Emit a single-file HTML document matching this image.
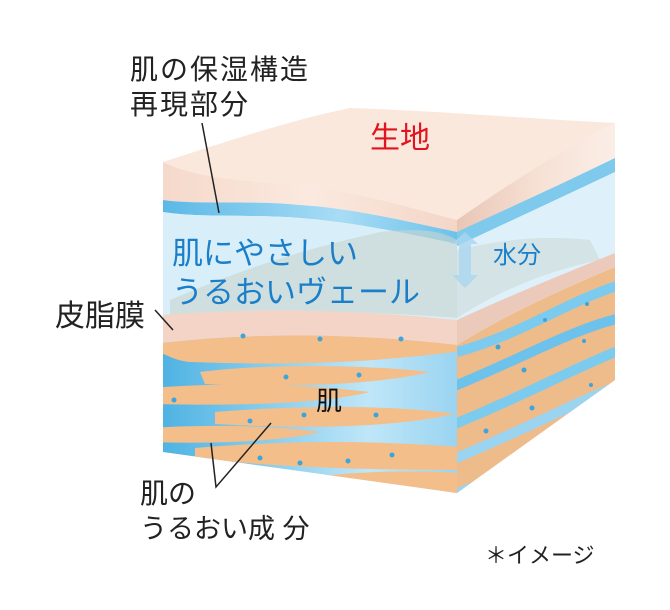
<!DOCTYPE html>
<html><head><meta charset="utf-8"><style>
html,body{margin:0;padding:0;background:#fff;}
svg{display:block}
text{font-family:"Liberation Sans","Noto Sans CJK JP",sans-serif;}
</style></head><body>
<svg width="670" height="610" viewBox="0 0 670 610" xmlns="http://www.w3.org/2000/svg">
<defs>
<linearGradient id="fab" x1="0" x2="1"><stop offset="0" stop-color="#f5d9cb"/><stop offset="0.5" stop-color="#fbe9df"/><stop offset="1" stop-color="#f3d6c8"/></linearGradient>
<linearGradient id="fabR" x1="0" x2="1"><stop offset="0" stop-color="#e8c6b6"/><stop offset="0.5" stop-color="#f6e0d4"/><stop offset="1" stop-color="#fbeee7"/></linearGradient>
<linearGradient id="blu" x1="0" x2="1"><stop offset="0" stop-color="#5bb8e6"/><stop offset="0.6" stop-color="#a8dcf5"/><stop offset="1" stop-color="#6cc2ea"/></linearGradient>
<linearGradient id="skinb" x1="0" x2="1"><stop offset="0" stop-color="#4fb3e3"/><stop offset="0.7" stop-color="#bfe6f8"/><stop offset="1" stop-color="#9ad4f1"/></linearGradient>
<linearGradient id="skinbR" x1="0" x2="1"><stop offset="0" stop-color="#a8daf3"/><stop offset="1" stop-color="#4fb3e3"/></linearGradient>
<clipPath id="cf"><path d="M163,343 C280,330 380,336 457,345 L457,493 L163,452 Z"/></clipPath>
<clipPath id="cr"><path d="M457,345 C500,318 560,290 615,267 L615,380 L457,493 Z"/></clipPath>
</defs>
<path d="M163,162 C230,140 300,118 350,108 C420,110 520,118 615,123 C560,150 500,190 457,220 C400,205 350,190 300,185 C250,180 200,180 163,162 Z" fill="#fbe8dc"/>
<path d="M163,162 C200,180 250,180 300,185 C350,190 400,205 457,220 L457,235 C400,220 350,208 300,205 C250,200 200,205 163,200 Z" fill="url(#fab)"/>
<path d="M163,200 C200,205 250,200 300,205 C350,208 400,220 457,232 L457,244 C400,232 350,222 300,218 C250,214 200,218 163,212 Z" fill="url(#blu)"/>
<path d="M163,212 C200,218 250,214 300,218 C350,222 400,232 457,244 L457,322 C400,318 300,310 163,318 Z" fill="#d8eef9"/>
<path d="M170,300 C240,270 300,250 380,232 C420,228 440,230 457,240 L457,318 C380,312 280,308 170,318 Z" fill="#c9d5cf" opacity="0.6"/>
<path d="M457,220 C500,190 560,150 615,123 L615,160 C560,185 500,215 457,235 Z" fill="url(#fabR)"/>
<path d="M457,232 C500,212 560,185 615,158 L615,172 C560,198 500,226 457,246 Z" fill="#7ec9ec"/>
<path d="M457,246 C500,226 560,198 615,172 L615,253 C560,275 500,300 457,322 Z" fill="#def0fa"/>
<path d="M457,250 C500,240 540,235 590,240 L600,260 C550,270 500,290 457,318 Z" fill="#c9d5cf" opacity="0.5"/>
<path d="M465,232 L478,244 L471,244 L471,275 L478,275 L465,288 L452,275 L459,275 L459,244 L452,244 Z" fill="#a9d6ef" opacity="0.8"/>
<path d="M163,315 C280,306 380,312 457,320 L457,345 C380,336 280,330 163,343 Z" fill="#f4d4c6"/>
<path d="M457,320 C500,300 560,275 615,253 L615,267 C560,290 500,318 457,345 Z" fill="#eccabb"/>
<path d="M163,343 C280,330 380,336 457,345 L457,493 L163,452 Z" fill="url(#skinb)"/>
<g fill="#f4be8a" clip-path="url(#cf)">
<path d="M150,335 L470,335 L470,350 C380,362 300,366 190,362 C170,360 165,352 150,350 Z"/>
<path d="M200,372 C260,364 360,364 430,372 C380,384 300,388 205,384 Z"/>
<path d="M150,388 C230,382 300,384 370,392 C320,404 240,406 150,404 Z"/>
<path d="M215,412 C300,405 400,405 455,414 C400,426 320,430 215,424 Z"/>
<path d="M150,428 C210,424 280,426 320,432 C280,442 210,444 150,442 Z"/>
<path d="M195,448 C290,440 380,440 470,448 L470,470 C380,470 280,468 195,458 Z"/>
<path d="M300,478 C370,470 430,470 470,474 L470,500 L300,490 Z"/>
</g>
<path d="M457,345 C500,318 560,290 615,267 L615,380 L457,493 Z" fill="#eebb8b"/>
<g clip-path="url(#cr)" stroke-width="10" fill="none">
<path d="M457,352 C520,335 570,300 620,285" stroke="#7ccbee"/>
<path d="M440,392 C520,360 570,330 620,318" stroke="#6cc2ea"/>
<path d="M440,430 C520,398 570,370 620,350" stroke="#7ccbee"/>
<path d="M440,465 C520,432 570,405 620,385" stroke="#9ad4f1"/>
<path d="M440,500 C520,470 570,440 620,420" stroke="#9ad4f1"/>
</g>
<g fill="#3aa6dc">
<circle cx="243" cy="336" r="2.5"/><circle cx="320" cy="339" r="2.5"/><circle cx="401" cy="339" r="2.5"/>
<circle cx="286" cy="377" r="2.5"/><circle cx="359" cy="375" r="2.5"/><circle cx="174" cy="400" r="2.5"/>
<circle cx="304" cy="415" r="2.5"/><circle cx="376" cy="415" r="2.5"/><circle cx="250" cy="421" r="2.5"/>
<circle cx="260" cy="458" r="2.5"/><circle cx="348" cy="461" r="2.5"/><circle cx="392" cy="455" r="2.5"/><circle cx="300" cy="463" r="2.5"/>
<circle cx="545" cy="320" r="2"/><circle cx="584" cy="341" r="2"/><circle cx="587" cy="304" r="2"/><circle cx="498" cy="347" r="2.5"/>
<circle cx="524" cy="370" r="2.5"/><circle cx="591" cy="385" r="2"/><circle cx="532" cy="408" r="2.5"/><circle cx="486" cy="431" r="2.5"/>
</g>
<g stroke="#222" stroke-width="1.5" fill="none">
<line x1="202" y1="123" x2="219" y2="213"/>
<line x1="155" y1="310" x2="173" y2="330"/>
<polyline points="211,443 216,487 271,423"/>
</g>
<g fill="#222" font-size="28">
<text x="130" y="79" letter-spacing="2">肌の保湿構造</text>
<text x="130" y="114" letter-spacing="2">再現部分</text>
</g>
<text x="370" y="148" font-size="30" fill="#e0141e">生地</text>
<g fill="#1a7fc8" font-size="31">
<text x="172" y="264">肌にやさしい</text>
<text x="172" y="303">うるおいヴェール</text>
</g>
<text x="493" y="263" font-size="24" fill="#1a7fc8">水分</text>
<text x="55" y="326" font-size="30" fill="#222">皮脂膜</text>
<text x="316" y="410" font-size="26" fill="#111">肌</text>
<text x="140" y="503" font-size="28" fill="#222">肌の</text>
<text x="140" y="538" font-size="27" fill="#222">うるおい成 分</text>
<text x="485" y="563" font-size="22" fill="#222">＊イメージ</text>
</svg>
</body></html>
